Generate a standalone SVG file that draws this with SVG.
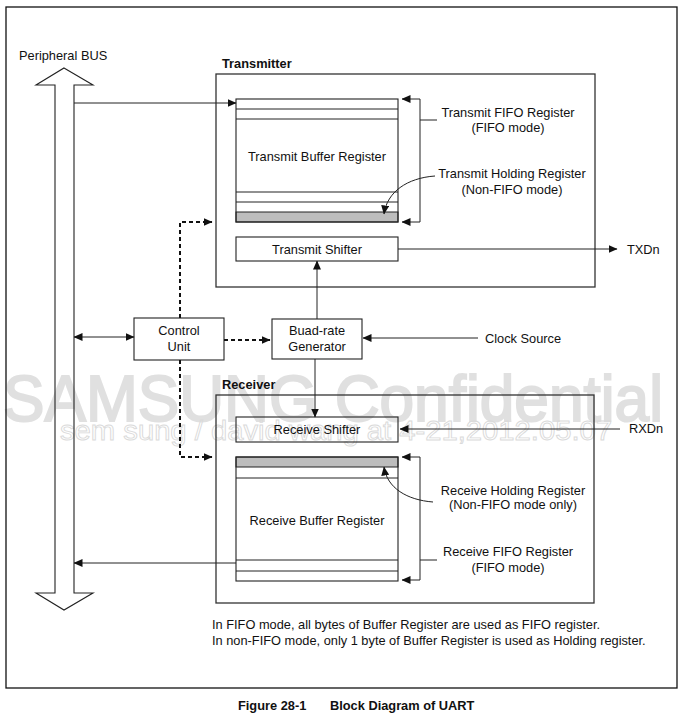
<svg xmlns="http://www.w3.org/2000/svg" width="684" height="723" viewBox="0 0 684 723">
<defs>
<style>
text{font-family:"Liberation Sans",Arial,sans-serif;font-size:12.8px;fill:#111}
.c{text-anchor:middle}
.b{font-weight:bold}
.box{fill:none;stroke:#222;stroke-width:1.1}
.cont{fill:none;stroke:#333;stroke-width:1.3}
.ln{fill:none;stroke:#222;stroke-width:1}
.dash{fill:none;stroke:#111;stroke-width:2;stroke-dasharray:4,3}
.gray{fill:#bdbdbd;stroke:#222;stroke-width:1}
.wm{fill:#e0e0e0;stroke:#e0e0e0;stroke-width:2}
</style>
<marker id="ah" markerUnits="userSpaceOnUse" markerWidth="9" markerHeight="8" refX="8.5" refY="4" orient="auto-start-reverse">
<path d="M0,0 L9,4 L0,8 z" fill="#111"/>
</marker>
</defs>
<rect width="684" height="723" fill="#fff"/>
<g id="watermark">
<text class="wm" x="3" y="421" style="font-size:64px" textLength="660" lengthAdjust="spacingAndGlyphs">SAMSUNG Confidential</text>
<text x="60" y="440" style="font-size:27px;fill:none;stroke:#dadada;stroke-width:0.9" textLength="552" lengthAdjust="spacingAndGlyphs">sem sung / david wang at 4-21,2012.05.07</text>
</g>
<rect id="frame" x="6" y="7" width="671" height="681" fill="none" stroke="#111" stroke-width="1.3"/>
<g id="bus">
<polygon points="64,68 93,85 74,85 74,593 93,593 64,610 36,593 55,593 55,85 36,85" fill="none" stroke="#222" stroke-width="1.1"/>
<text x="19" y="59.5">Peripheral BUS</text>
</g>
<g id="transmitter">
<rect class="cont" x="216" y="74" width="379" height="213"/>
<text class="b" x="222" y="68">Transmitter</text>
</g>
<g id="tx-buffer">
<rect class="gray" x="236" y="212" width="162" height="10"/>
<rect class="box" x="236" y="99" width="162" height="123"/>
<path class="ln" d="M236,109H398M236,119H398M236,192H398M236,202H398"/>
<text class="c" x="317" y="160.5">Transmit Buffer Register</text>
</g>
<g id="tx-shifter">
<rect class="box" x="236" y="237" width="162" height="24"/>
<text class="c" x="317" y="253.5">Transmit Shifter</text>
</g>
<g id="control-unit">
<rect class="box" x="134" y="318" width="90" height="42"/>
<text class="c" x="179" y="335">Control</text>
<text class="c" x="179" y="351">Unit</text>
</g>
<g id="baud-rate">
<rect class="box" x="272" y="319" width="90" height="40"/>
<text class="c" x="317" y="335">Buad-rate</text>
<text class="c" x="317" y="351">Generator</text>
</g>
<g id="receiver">
<rect class="cont" x="216" y="395" width="378" height="208"/>
<text class="b" x="222" y="389">Receiver</text>
</g>
<g id="rx-shifter">
<rect class="box" x="236" y="417" width="162" height="25"/>
<text class="c" x="317" y="433.5">Receive Shifter</text>
</g>
<g id="rx-buffer">
<rect class="gray" x="236" y="457" width="162" height="10"/>
<rect class="box" x="236" y="457" width="162" height="124"/>
<path class="ln" d="M236,478H398M236,560H398M236,571H398"/>
<text class="c" x="317" y="524.5">Receive Buffer Register</text>
</g>
<g id="labels">
<text class="c" x="508" y="116.5">Transmit FIFO Register</text>
<text class="c" x="508" y="131.5">(FIFO mode)</text>
<text class="c" x="512" y="177.5">Transmit Holding Register</text>
<text class="c" x="512" y="193.5">(Non-FIFO mode)</text>
<text x="627" y="253.5">TXDn</text>
<text x="485" y="342.5">Clock Source</text>
<text x="629" y="433">RXDn</text>
<text class="c" x="513" y="494.5">Receive Holding Register</text>
<text class="c" x="513" y="508.5">(Non-FIFO mode only)</text>
<text class="c" x="508" y="555.5">Receive FIFO Register</text>
<text class="c" x="508" y="571.5">(FIFO mode)</text>
<text x="212" y="628.5">In FIFO mode, all bytes of Buffer Register are used as FIFO register.</text>
<text x="212" y="644.5">In non-FIFO mode, only 1 byte of Buffer Register is used as Holding register.</text>
<text class="b" x="238" y="709.5">Figure 28-1</text>
<text class="b" x="330" y="709.5">Block Diagram of UART</text>
</g>
<g id="connectors">
<path class="ln" d="M74,103H236" marker-end="url(#ah)"/>
<path class="ln" d="M420,99H402" marker-end="url(#ah)"/>
<path class="ln" d="M420,99V222H402" marker-end="url(#ah)"/>
<path class="ln" d="M420,120H437"/>
<path class="ln" d="M435,176C407,178 387,192 384,214" marker-end="url(#ah)"/>
<path class="ln" d="M398,249H617" marker-end="url(#ah)"/>
<path class="ln" d="M317,319V261" marker-end="url(#ah)"/>
<path class="ln" d="M74,337H134" marker-start="url(#ah)" marker-end="url(#ah)"/>
<path class="dash" d="M180,318V222H212" marker-end="url(#ah)"/>
<path class="dash" d="M180,360V457H212" marker-end="url(#ah)"/>
<path class="dash" d="M224,340H270" marker-end="url(#ah)"/>
<path class="ln" d="M478,338H363" marker-end="url(#ah)"/>
<path class="ln" d="M315,359V417" marker-end="url(#ah)"/>
<path class="ln" d="M620,429H400" marker-end="url(#ah)"/>
<path class="ln" d="M420,457H402" marker-end="url(#ah)"/>
<path class="ln" d="M420,457V580H402" marker-end="url(#ah)"/>
<path class="ln" d="M420,560H437"/>
<path class="ln" d="M433,502C407,500 387,488 384,467" marker-end="url(#ah)"/>
<path class="ln" d="M236,563H74" marker-end="url(#ah)"/>
</g>
</svg>
